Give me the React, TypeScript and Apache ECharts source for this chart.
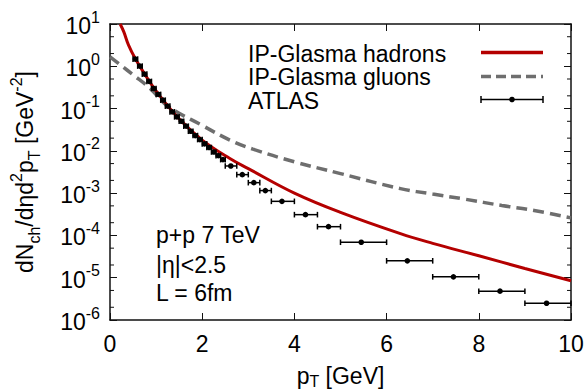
import React, { useEffect, useRef } from "react";
import * as echarts from "echarts";

const FONT = '"Liberation Sans", Arial, Helvetica, sans-serif';

// IP-Glasma hadrons (solid red)
const hadronsX = [0.22, 0.3, 0.4, 0.55, 0.75, 1.0, 1.5, 2.0, 2.6, 3.0, 4.0, 5.0, 6.3, 7.0, 8.0, 9.0, 10.0];
const hadronsY = [10, 6.5, 3.2, 1.5, 0.66, 0.26, 0.057, 0.018, 6.6e-3, 3.8e-3, 1.0e-3, 3.5e-4, 1.1e-4, 6.5e-5, 3.3e-5, 1.65e-5, 8.5e-6];

// IP-Glasma gluons (dashed gray)
const gluonsX = [0, 0.25, 0.5, 0.87, 1.25, 2.0, 2.6, 3.1, 4.0, 5.0, 6.3, 7.0, 7.7, 8.5, 9.2, 10];
const gluonsY = [1.68, 1.03, 0.63, 0.3, 0.115, 0.04, 0.018, 0.011, 5.5e-3, 2.9e-3, 1.28e-3, 9.5e-4, 7.2e-4, 5.1e-4, 3.9e-4, 2.6e-4];

// ATLAS data
const atlasX = [0.55, 0.65, 0.75, 0.85, 0.95, 1.05, 1.15, 1.25, 1.35, 1.45, 1.55, 1.65, 1.75, 1.85, 1.95, 2.05, 2.15, 2.25, 2.35, 2.45, 2.62, 2.87, 3.12, 3.37, 3.73, 4.24, 4.74, 5.45, 6.45, 7.45, 8.46, 9.47];
const atlasY = [1.48, 1.01, 0.653, 0.439, 0.299, 0.216, 0.158, 0.114, 0.0836, 0.0636, 0.0502, 0.0383, 0.0291, 0.023, 0.0185, 0.0146, 0.012, 0.0094, 0.0077, 0.0062, 4.39e-3, 2.74e-3, 1.77e-3, 1.15e-3, 6.4e-4, 3.1e-4, 1.61e-4, 6.9e-5, 2.51e-5, 1.05e-5, 4.8e-6, 2.49e-6];
const atlasLo = [0.5, 0.6, 0.7, 0.8, 0.9, 1.0, 1.1, 1.2, 1.3, 1.4, 1.5, 1.6, 1.7, 1.8, 1.9, 2.0, 2.1, 2.2, 2.3, 2.4, 2.5, 2.75, 3.0, 3.25, 3.5, 4.0, 4.5, 5.0, 6.0, 7.0, 8.0, 9.0];
const atlasHi = [0.6, 0.7, 0.8, 0.9, 1.0, 1.1, 1.2, 1.3, 1.4, 1.5, 1.6, 1.7, 1.8, 1.9, 2.0, 2.1, 2.2, 2.3, 2.4, 2.5, 2.75, 3.0, 3.25, 3.5, 4.0, 4.5, 5.0, 6.0, 7.0, 8.0, 9.0, 10.0];

// minor tick values on the log axis (2 and 5 per decade)
const minorTickValues = [2e-6, 5e-6, 2e-5, 5e-5, 2e-4, 5e-4, 2e-3, 5e-3, 2e-2, 5e-2, 0.2, 0.5, 2, 5];

const legendLabels = ["IP-Glasma hadrons", "IP-Glasma gluons", "ATLAS"];
const noteLines = ["p+p 7 TeV", "|η|<2.5", "L = 6fm"];

const RED = "#b40000";
const GRAY = "#6e6e6e";
const AXIS = "#111";

const richBase = {
  b: { fontSize: 23, fontFamily: FONT, color: "#000", lineHeight: 34 },
  sup: { fontSize: 16, fontFamily: FONT, color: "#000", lineHeight: 16, verticalAlign: "top" },
  sub: { fontSize: 16, fontFamily: FONT, color: "#000", lineHeight: 16, verticalAlign: "bottom" },
};

const richXName = {
  b: { fontSize: 23, fontFamily: FONT, color: "#000", lineHeight: 26 },
  sub: { fontSize: 16, fontFamily: FONT, color: "#000", lineHeight: 14, verticalAlign: "bottom" },
};

export default function App() {
  const ref = useRef<HTMLDivElement>(null);
  useEffect(() => {
    if (!ref.current) return;
    const chart = echarts.init(ref.current, null, { renderer: "svg" });

    const atlasData = atlasX.map((x, i) => [x, atlasY[i], atlasLo[i], atlasHi[i]]);

    const legendY = [52.5, 76.5, 99.5];
    const legendTextY = [53.5, 77, 101];
    const lx1 = 481;
    const lx2 = 543;

    const graphic: any[] = [];
    legendLabels.forEach((t, i) => {
      graphic.push({
        type: "text",
        x: 248,
        y: legendTextY[i],
        style: { text: t, fontSize: 23, lineHeight: 20, fontFamily: FONT, fill: "#000", align: "left", verticalAlign: "middle" },
      });
    });
    graphic.push({ type: "line", shape: { x1: lx1, y1: legendY[0], x2: lx2, y2: legendY[0] }, style: { stroke: RED, lineWidth: 3.5 } });
    graphic.push({ type: "line", shape: { x1: lx1, y1: legendY[1], x2: lx2, y2: legendY[1] }, style: { stroke: GRAY, lineWidth: 3.5, lineDash: [10, 5] } });
    graphic.push({ type: "line", shape: { x1: lx1, y1: legendY[2], x2: lx2, y2: legendY[2] }, style: { stroke: "#000", lineWidth: 1.5 } });
    graphic.push({ type: "line", shape: { x1: lx1, y1: legendY[2] - 3.5, x2: lx1, y2: legendY[2] + 3.5 }, style: { stroke: "#000", lineWidth: 1.5 } });
    graphic.push({ type: "line", shape: { x1: lx2, y1: legendY[2] - 3.5, x2: lx2, y2: legendY[2] + 3.5 }, style: { stroke: "#000", lineWidth: 1.5 } });
    graphic.push({ type: "circle", shape: { cx: (lx1 + lx2) / 2, cy: legendY[2], r: 2.8 }, style: { fill: "#000" } });

    const noteY = [235, 265, 293];
    noteLines.forEach((t, i) => {
      graphic.push({
        type: "text",
        x: 156,
        y: noteY[i],
        style: { text: t, fontSize: 23, lineHeight: 24, fontFamily: FONT, fill: "#000", align: "left", verticalAlign: "middle" },
      });
    });

    const axisLine = { show: true, onZero: false, lineStyle: { color: AXIS, width: 1.5 } };
    const tick = { show: true, inside: true, length: 7, lineStyle: { color: AXIS, width: 1 } };

    chart.setOption({
      animation: false,
      backgroundColor: "#fff",
      grid: { left: 110, right: 17, top: 24, bottom: 69, containLabel: false, outerBoundsMode: "none" },
      xAxis: [
        {
          type: "value",
          min: 0,
          max: 10,
          interval: 2,
          position: "bottom",
          axisLine,
          axisTick: tick,
          splitLine: { show: false },
          axisLabel: { fontSize: 23, fontFamily: FONT, color: "#000", margin: 12 },
          name: "{b|p}{sub|T}{b| [GeV]}",
          nameLocation: "middle",
          nameGap: 43,
          nameTextStyle: { rich: richXName },
        },
        {
          type: "value",
          min: 0,
          max: 10,
          interval: 2,
          position: "top",
          axisLine,
          axisTick: tick,
          splitLine: { show: false },
          axisLabel: { show: false },
        },
      ],
      yAxis: [
        {
          type: "log",
          logBase: 10,
          min: 1e-6,
          max: 10,
          splitNumber: 7,
          position: "left",
          axisLine,
          axisTick: tick,
          splitLine: { show: false },
          axisLabel: {
            margin: 10,
            padding: [4, 0, 0, 0],
            formatter: (v: number) => "{b|10}{sup|" + Math.round(Math.log10(v)) + "}",
            rich: richBase,
          },
          name: "{b|dN}{sub|ch}{b|/dηd}{sup|2}{b|p}{sub|T}{b| [GeV}{sup|-2}{b|]}",
          nameLocation: "middle",
          nameRotate: 90,
          nameGap: 68,
          nameTextStyle: { rich: richBase },
        },
        {
          type: "log",
          logBase: 10,
          min: 1e-6,
          max: 10,
          splitNumber: 7,
          position: "right",
          axisLine,
          axisTick: tick,
          splitLine: { show: false },
          axisLabel: { show: false },
        },
      ],
      series: [
        {
          name: legendLabels[1],
          type: "line",
          smooth: 0.4,
          symbol: "none",
          data: gluonsX.map((x, i) => [x, gluonsY[i]]),
          lineStyle: { color: GRAY, width: 3.5, type: [11, 6] },
          z: 2,
        },
        {
          name: legendLabels[0],
          type: "line",
          smooth: 0.4,
          symbol: "none",
          data: hadronsX.map((x, i) => [x, hadronsY[i]]),
          lineStyle: { color: RED, width: 3 },
          z: 3,
        },
        {
          name: legendLabels[2],
          type: "custom",
          data: atlasData,
          encode: { x: 0, y: 1 },
          z: 4,
          renderItem: (params: any, api: any) => {
            const x = api.value(0);
            const y = api.value(1);
            const lo = api.value(2);
            const hi = api.value(3);
            const p = api.coord([x, y]);
            const pl = api.coord([lo, y]);
            const ph = api.coord([hi, y]);
            const cap = 2.8;
            const st = { stroke: "#000", lineWidth: 1.5 };
            return {
              type: "group",
              children: [
                { type: "line", shape: { x1: pl[0], y1: p[1], x2: ph[0], y2: p[1] }, style: st },
                { type: "line", shape: { x1: pl[0], y1: p[1] - cap, x2: pl[0], y2: p[1] + cap }, style: st },
                { type: "line", shape: { x1: ph[0], y1: p[1] - cap, x2: ph[0], y2: p[1] + cap }, style: st },
                { type: "circle", shape: { cx: p[0], cy: p[1], r: 2.8 }, style: { fill: "#000" } },
              ],
            };
          },
        },
        {
          name: "minor ticks",
          type: "custom",
          silent: true,
          clip: false,
          data: minorTickValues.map((v) => [0, v]),
          encode: { x: 0, y: 1 },
          z: 1,
          renderItem: (params: any, api: any) => {
            const v = api.value(1);
            const pl = api.coord([0, v]);
            const pr = api.coord([10, v]);
            const st = { stroke: AXIS, lineWidth: 1 };
            return {
              type: "group",
              children: [
                { type: "line", shape: { x1: pl[0], y1: pl[1], x2: pl[0] + 4, y2: pl[1] }, style: st },
                { type: "line", shape: { x1: pr[0], y1: pr[1], x2: pr[0] - 4, y2: pr[1] }, style: st },
              ],
            };
          },
        },
      ],
      graphic,
    });
    return () => chart.dispose();
  }, []);
  return <div ref={ref} style={{ position: "fixed", left: 0, top: 0, width: 588, height: 389, background: "#fff" }} />;
}
